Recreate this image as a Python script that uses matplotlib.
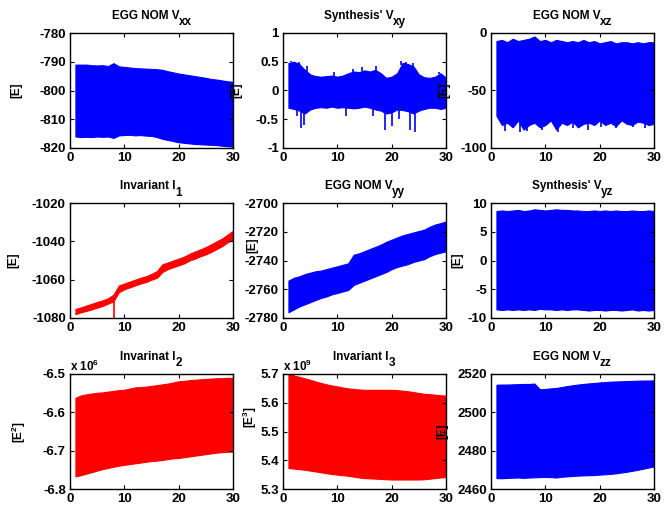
import numpy as np
import matplotlib.pyplot as plt

plt.rcParams['font.family'] = ['Liberation Sans', 'DejaVu Sans']
plt.rcParams['font.weight'] = 'bold'
plt.rcParams['font.size'] = 9.5
plt.rcParams['mathtext.fontset'] = 'custom'
plt.rcParams['mathtext.rm'] = 'Liberation Sans:bold'
plt.rcParams['mathtext.bf'] = 'Liberation Sans:bold'
plt.rcParams['mathtext.it'] = 'Liberation Sans:bold'
plt.rcParams['mathtext.default'] = 'bf'

# time axis of the envelopes (days)
t = [1, 2, 3, 4, 5, 6, 7, 8, 9, 10, 11, 12, 13, 14, 15,
     16, 17, 18, 19, 20, 21, 22, 23, 24, 25, 26, 27, 28, 29, 30]

# upper / lower envelopes of each oscillating signal
vxx_hi = [-791, -791, -791, -791.2, -791.3, -791.2, -791.5, -790.5, -791.6, -791.8,
          -792, -792.2, -792.3, -792.4, -792.5, -792.6, -792.8, -793.3, -793.7, -794.1,
          -794.4, -794.7, -795, -795.3, -795.6, -796, -796.2, -796.5, -796.8, -797]
vxx_lo = [-816, -816.2, -816.1, -816.2, -816, -816.1, -816, -816.5, -815.6, -815.5,
          -815.4, -815.6, -815.5, -815.7, -815.8, -816.2, -816.8, -817.2, -817.6, -818,
          -818.2, -818.4, -818.6, -818.7, -818.8, -818.9, -819, -819.2, -819.4, -819.5]

vxy_hi = [0.48, 0.5, 0.46, 0.36, 0.28, 0.25, 0.24, 0.25, 0.26, 0.24,
          0.26, 0.3, 0.33, 0.32, 0.35, 0.33, 0.36, 0.3, 0.22, 0.24,
          0.3, 0.48, 0.46, 0.42, 0.28, 0.23, 0.22, 0.24, 0.3, 0.22]
vxy_lo = [-0.3, -0.32, -0.35, -0.4, -0.33, -0.3, -0.29, -0.3, -0.28, -0.3,
          -0.29, -0.3, -0.31, -0.3, -0.28, -0.3, -0.33, -0.35, -0.4, -0.38,
          -0.33, -0.34, -0.36, -0.4, -0.35, -0.32, -0.3, -0.3, -0.32, -0.3]
vxy_spike_t = [2.6, 3.4, 3.9, 11.6, 16.6, 18.7, 20.0, 21.3, 23.4, 24.3]
vxy_spike_lo = [-0.45, -0.65, -0.6, -0.45, -0.45, -0.68, -0.62, -0.5, -0.68, -0.72]
vxy_up_t = [1.5, 2.3, 2.9, 4.4, 9.3, 12.8, 14.6, 17.2, 21.8, 22.6, 23.9, 28.7]
vxy_up_hi = [0.52, 0.5, 0.5, 0.42, 0.33, 0.38, 0.4, 0.42, 0.52, 0.5, 0.48, 0.33]

vxz_hi = [-7, -6, -8, -5, -7, -6, -5, -3, -7, -6,
          -8, -6, -7, -8, -7, -8, -6, -8, -7, -9,
          -8, -7, -9, -8, -8, -9, -8, -9, -8, -8]
vxz_lo = [-72, -80, -78, -82, -76, -84, -80, -78, -82, -80,
          -76, -84, -78, -80, -77, -82, -79, -78, -80, -76,
          -80, -78, -81, -76, -79, -80, -77, -78, -80, -79]
vxz_spike_t = [2.5, 5.3, 6.6, 9.4, 12.4, 15.1, 17.8, 20.2, 23.0, 26.1, 28.4]
vxz_spike_lo = [-85, -86, -85, -84, -86, -83, -84, -82, -83, -82, -83]

i1_hi = [-1075.3, -1074.5, -1073.5, -1072.6, -1071.6, -1070.8, -1069.7, -1067.8, -1063, -1062,
         -1061, -1060, -1059, -1058.2, -1057, -1055.5, -1052, -1051, -1050, -1049,
         -1048, -1046.5, -1045.3, -1044.2, -1043, -1041.5, -1040, -1038.5, -1036.5, -1034.5]
i1_lo = [-1078, -1077, -1076.3, -1075.5, -1074.6, -1073.7, -1072.5, -1071.3, -1066.5, -1065,
         -1064, -1063, -1062, -1061.2, -1060, -1059, -1056, -1054.5, -1053.5, -1052.5,
         -1051.5, -1050, -1049, -1047.8, -1046.8, -1045.5, -1044, -1042.5, -1040.5, -1039]

vyy_hi = [-2754, -2752, -2751, -2749.5, -2748.5, -2747.5, -2747, -2746, -2745, -2744,
          -2743, -2742, -2736, -2735, -2733.5, -2732, -2730.5, -2729, -2727, -2725.5,
          -2724, -2722.5, -2721.5, -2720.5, -2719.5, -2718.5, -2716.5, -2715, -2714, -2712.8]
vyy_lo = [-2776, -2774, -2772, -2770.5, -2769, -2767.5, -2766, -2765, -2763.5, -2762.6,
          -2761.5, -2760.5, -2757, -2755.5, -2754, -2752.5, -2751, -2749.5, -2748, -2746,
          -2744.5, -2743.5, -2742.5, -2741, -2740, -2739, -2737, -2735.5, -2734.5, -2733.6]

vyz_hi = [8.6, 8.7, 8.6, 8.7, 8.8, 8.6, 8.7, 8.9, 8.8, 8.7,
          8.8, 8.9, 8.8, 8.8, 8.7, 8.7, 8.6, 8.6, 8.7, 8.6,
          8.7, 8.6, 8.7, 8.6, 8.6, 8.7, 8.6, 8.6, 8.7, 8.6]
vyz_lo = [-8.5, -8.6, -8.5, -8.6, -8.5, -8.6, -8.5, -8.6, -8.4, -8.5,
          -8.5, -8.6, -8.5, -8.6, -8.5, -8.5, -8.6, -8.7, -8.6, -8.6,
          -8.7, -8.6, -8.6, -8.7, -8.6, -8.5, -8.7, -8.6, -8.7, -8.6]

i2_hi = [-6.562, -6.556, -6.553, -6.551, -6.549, -6.548, -6.546, -6.544, -6.542, -6.541,
         -6.538, -6.535, -6.534, -6.533, -6.531, -6.529, -6.527, -6.525, -6.522, -6.519,
         -6.518, -6.516, -6.515, -6.514, -6.513, -6.512, -6.511, -6.511, -6.510, -6.510]
i2_lo = [-6.767, -6.764, -6.760, -6.756, -6.752, -6.748, -6.745, -6.742, -6.739, -6.737,
         -6.735, -6.733, -6.731, -6.729, -6.727, -6.726, -6.724, -6.722, -6.720, -6.719,
         -6.717, -6.715, -6.713, -6.711, -6.709, -6.707, -6.705, -6.704, -6.703, -6.702]

i3_hi = [5.700, 5.695, 5.690, 5.685, 5.680, 5.674, 5.669, 5.664, 5.660, 5.657,
         5.653, 5.650, 5.648, 5.646, 5.645, 5.645, 5.645, 5.645, 5.645, 5.645,
         5.644, 5.642, 5.640, 5.637, 5.634, 5.631, 5.630, 5.628, 5.626, 5.625]
i3_lo = [5.373, 5.371, 5.369, 5.367, 5.364, 5.361, 5.358, 5.355, 5.352, 5.350,
         5.348, 5.346, 5.343, 5.340, 5.338, 5.337, 5.336, 5.335, 5.334, 5.333,
         5.333, 5.333, 5.333, 5.333, 5.333, 5.334, 5.336, 5.338, 5.340, 5.342]

vzz_hi = [2514.4, 2514.5, 2514.5, 2514.6, 2514.7, 2514.8, 2514.8, 2515, 2512, 2512.2,
          2512.5, 2512.7, 2513.2, 2513.7, 2514.1, 2514.5, 2514.8, 2515.1, 2515.3, 2515.6,
          2515.8, 2516, 2516.1, 2516.2, 2516.3, 2516.4, 2516.5, 2516.6, 2516.6, 2516.7]
vzz_lo = [2465.7, 2465.6, 2465.8, 2465.9, 2466, 2465.8, 2466, 2466.1, 2466.2, 2466.3,
          2466.2, 2466, 2466.4, 2466.6, 2466.8, 2467, 2467.1, 2467.2, 2467.3, 2467.5,
          2467.7, 2467.9, 2468.2, 2468.6, 2469, 2469.5, 2470, 2470.6, 2471.2, 2471.8]

BLUE = '#0000ff'
RED = '#ff0000'

# (title, subscript, ylabel, upper, lower, colour, ylim, yticks, scale text)
panels = [
    ('EGG NOM V', 'xx', '[E]', vxx_hi, vxx_lo, BLUE, (-820, -780), [-820, -810, -800, -790, -780], None),
    ("Synthesis' V", 'xy', '[E]', vxy_hi, vxy_lo, BLUE, (-1, 1), [-1, -0.5, 0, 0.5, 1], None),
    ('EGG NOM V', 'xz', '[E]', vxz_hi, vxz_lo, BLUE, (-100, 0), [-100, -50, 0], None),
    ('Invariant I', '1', '[E]', i1_hi, i1_lo, RED, (-1080, -1020), [-1080, -1060, -1040, -1020], None),
    ('EGG NOM V', 'yy', '[E]', vyy_hi, vyy_lo, BLUE, (-2780, -2700), [-2780, -2760, -2740, -2720, -2700], None),
    ("Synthesis' V", 'yz', '[E]', vyz_hi, vyz_lo, BLUE, (-10, 10), [-10, -5, 0, 5, 10], None),
    ('Invarinat I', '2', r'[E$^2$]', i2_hi, i2_lo, RED, (-6.8, -6.5), [-6.8, -6.7, -6.6, -6.5], r'x 10$^6$'),
    ('Invariant I', '3', r'[E$^3$]', i3_hi, i3_lo, RED, (5.3, 5.7), [5.3, 5.4, 5.5, 5.6, 5.7], r'x 10$^9$'),
    ('EGG NOM V', 'zz', '[E]', vzz_hi, vzz_lo, BLUE, (2460, 2520), [2460, 2480, 2500, 2520], None),
]

# y-label anchor (axes fraction) as placed in the original figure
label_xy = [(-0.29, 0.5), (-0.25, 0.5), (-0.25, 0.5),
            (-0.31, 0.5), (-0.15, 0.63), (-0.17, 0.5),
            (-0.26, 0.5), (-0.15, 0.63), (-0.26, 0.5)]

W, H = 664, 508
lefts = [70, 283, 491]
tops = [33, 203, 374]
aw, ah = 163, 115

fig = plt.figure(figsize=(6.64, 5.08), dpi=100)
for k, (title, sub, ylab, hi, lo, col, ylim, yt, sc) in enumerate(panels):
    r, c = divmod(k, 3)
    ax = fig.add_axes([lefts[c] / W, 1 - (tops[r] + ah) / H, aw / W, ah / H])
    ax.fill_between(t, lo, hi, color=col, linewidth=0.8, edgecolor=col)
    if k == 1:
        ax.vlines(vxy_spike_t, np.interp(vxy_spike_t, t, vxy_lo), vxy_spike_lo, color=col, lw=1.2)
        ax.vlines(vxy_up_t, np.interp(vxy_up_t, t, vxy_hi), vxy_up_hi, color=col, lw=1.2)
    if k == 2:
        ax.vlines(vxz_spike_t, np.interp(vxz_spike_t, t, vxz_lo), vxz_spike_lo, color=col, lw=1.2)
    if k == 3:
        ax.vlines([8.1], [-1071], [-1080], color=col, lw=1.2)
    ax.set_xlim(0, 30)
    ax.set_xticks([0, 10, 20, 30])
    ax.set_ylim(*ylim)
    ax.set_yticks(yt)
    ax.set_yticklabels([('%g' % v) for v in yt])
    ax.tick_params(direction='in', top=True, right=True, length=3, width=0.8, pad=3)
    for s in ax.spines.values():
        s.set_linewidth(1.0)

    # title with a full-size, lowered subscript (MATLAB style)
    shift = 0.035 if len(sub) == 2 else 0.02
    main = ax.text(0.5 - shift, 1 + 14 / ah, title, transform=ax.transAxes,
                   ha='center', va='baseline', fontsize=8.5, fontweight='bold')
    ax.annotate(sub, xy=(1, 1 + 7.5 / ah), xycoords=(main, 'axes fraction'),
                xytext=(-0.5, 0), textcoords='offset points',
                ha='left', va='baseline', fontsize=8.5, fontweight='bold')

    ax.set_ylabel(ylab, fontsize=8.5, fontweight='bold')
    ax.yaxis.set_label_coords(*label_xy[k])
    if sc:
        ax.text(0.0, 1.03, sc, transform=ax.transAxes, fontsize=8.5, fontweight='bold',
                ha='left', va='baseline')

fig.savefig('out.png', dpi=100)
